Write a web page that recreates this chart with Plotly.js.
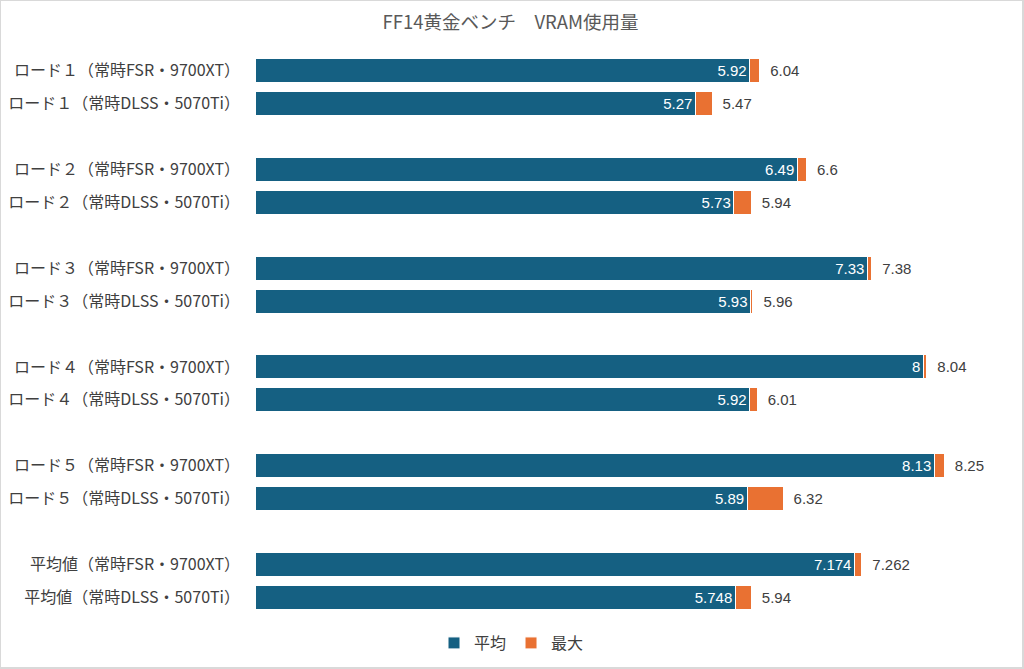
<!DOCTYPE html>
<html>
<head>
<meta charset="utf-8">
<script src="https://cdn.plot.ly/plotly-3.0.1.min.js"></script>
<style>
  body { margin: 0; background: #fff; }
  #chart { width: 1024px; height: 669px; box-sizing: border-box; border: 1px solid #d9d9d9; border-right-width: 2px; border-bottom-width: 2px; }
</style>
</head>
<body>
<div id="chart"></div>
<script>
// 各ロードの VRAM 使用量 (GB)
const labels = [
  "ロード１（常時FSR・9700XT）", "ロード１（常時DLSS・5070Ti）",
  "ロード２（常時FSR・9700XT）", "ロード２（常時DLSS・5070Ti）",
  "ロード３（常時FSR・9700XT）", "ロード３（常時DLSS・5070Ti）",
  "ロード４（常時FSR・9700XT）", "ロード４（常時DLSS・5070Ti）",
  "ロード５（常時FSR・9700XT）", "ロード５（常時DLSS・5070Ti）",
  "平均値（常時FSR・9700XT）", "平均値（常時DLSS・5070Ti）"
]
const avgVals = [5.92, 5.27, 6.49, 5.73, 7.33, 5.93, 8, 5.92, 8.13, 5.89, 7.174, 5.748]
const maxVals = [6.04, 5.47, 6.6, 5.94, 7.38, 5.96, 8.04, 6.01, 8.25, 6.32, 7.262, 5.94]

// pairs separated by an empty row
let ypos = labels.map((l, i) => i + Math.floor(i / 2))
let extra = maxVals.map((m, i) => +(m - avgVals[i]).toFixed(3))

let numFont = {family: "Liberation Sans, Arial, sans-serif", size: 15}

let data = [
  {
    type: 'bar', orientation: 'h', name: '平均',
    y: ypos, x: avgVals,
    text: avgVals.map(String),
    textposition: 'inside', insidetextanchor: 'end', constraintext: 'none',
    insidetextfont: Object.assign({color: '#ffffff'}, numFont),
    marker: {color: '#156082', line: {color: '#ffffff', width: 1}},
    hoverinfo: 'skip'
  },
  {
    type: 'bar', orientation: 'h', name: '最大',
    y: ypos, x: extra,
    // en space so the label sits a bit off the bar end
    text: maxVals.map(v => '\u2002' + v),
    textposition: 'outside', constraintext: 'none', cliponaxis: false,
    outsidetextfont: Object.assign({color: '#404040'}, numFont),
    marker: {color: '#e97132', line: {color: '#ffffff', width: 1}},
    hoverinfo: 'skip'
  }
]

let layout = {
  width: 1021, height: 666,
  barmode: 'stack', bargap: 0.27,
  font: {family: "Noto Sans CJK JP, sans-serif", color: '#404040', size: 16},
  paper_bgcolor: '#ffffff', plot_bgcolor: '#ffffff',
  margin: {l: 254, r: 15, t: 53, b: 53},
  title: {
    text: 'FF14黄金ベンチ　VRAM使用量',
    font: {size: 18.5, color: '#595959'},
    xref: 'container', x: 0.499, xanchor: 'center',
    yref: 'container', y: 0.967, yanchor: 'middle'
  },
  xaxis: {range: [0, 9], visible: false, fixedrange: true},
  yaxis: {
    tickvals: ypos, ticktext: labels,
    autorange: 'reversed',
    showgrid: false, zeroline: false, showline: false,
    ticks: '', ticklabelstandoff: 14
  },
  showlegend: true,
  legend: {
    orientation: 'h', xref: 'container', yref: 'container',
    x: 0.5, xanchor: 'center', y: 0.036, yanchor: 'middle',
    itemwidth: 30,
    font: {size: 16, color: '#404040'}, traceorder: 'normal'
  }
}

Plotly.newPlot('chart', data, layout, {displayModeBar: false, staticPlot: true})
</script>
</body>
</html>
